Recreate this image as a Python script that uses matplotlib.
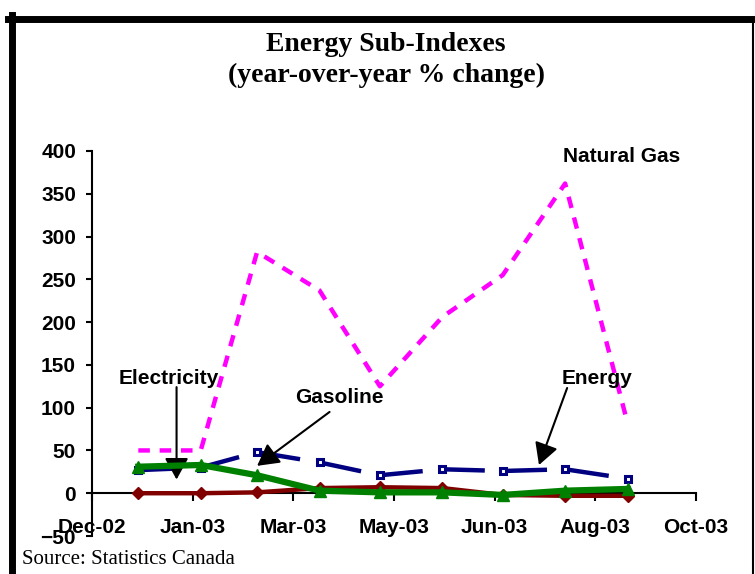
from datetime import date, timedelta

import matplotlib

matplotlib.use("Agg")
import matplotlib.dates as mdates
import matplotlib.pyplot as plt
from matplotlib.lines import Line2D


months = [date(2003, m, 1) for m in range(1, 10)]

natural_gas = [50, 50, 282, 237, 125, 206, 255, 362, 82]
energy = [27, 30, 48, 36, 21, 28, 26, 28, 17]
electricity = [0, 0, 1, 6, 7, 6, -2, -3, -3]
gasoline = [31, 33, 21, 3, 1, 1, -2, 3, 5]

tick_dates = [date(2002, 12, 9) + timedelta(days=50 * k) for k in range(7)]
y_ticks = list(range(-50, 401, 50))

TITLE = "Energy Sub-Indexes\n(year-over-year % change)"
SOURCE = "Source: Statistics Canada"

SANS = ["Liberation Sans", "DejaVu Sans"]
SERIF = ["Liberation Serif", "DejaVu Serif"]


def d(day):
    return mdates.date2num(day)


def main() -> None:
    fig = plt.figure(figsize=(7.55, 5.74), dpi=100)
    ax = fig.add_axes([92 / 755, 38 / 574, 604 / 755, 385 / 574])

    ax.plot(months, natural_gas, color="#ff00ff", lw=3.2, dashes=(2.6, 2.2),
            zorder=2)
    ax.plot(months, energy, color="#000080", lw=3.2, dashes=(9, 5),
            marker="s", ms=5, mfc="white", mec="#000080", mew=2.2, zorder=3)
    ax.plot(months, electricity, color="#800000", lw=3.2,
            marker="D", ms=6, mfc="#800000", mec="#800000", zorder=4)
    ax.plot(months, gasoline, color="#008000", lw=4.5,
            marker="^", ms=9, mfc="#008000", mec="#008000", zorder=5)

    ax.set_xlim(d(tick_dates[0]), d(tick_dates[-1]))
    ax.set_ylim(-50, 400)
    ax.set_xticks([d(t) for t in tick_dates])
    ax.xaxis.set_major_formatter(mdates.DateFormatter("%b-%y"))
    ax.set_yticks(y_ticks)

    for side in ("top", "right"):
        ax.spines[side].set_visible(False)
    ax.spines["bottom"].set_position(("data", 0))
    ax.spines["left"].set_linewidth(1.5)
    ax.spines["bottom"].set_linewidth(1.5)

    ax.tick_params(axis="x", direction="out", length=6, width=1.5, pad=12)
    ax.tick_params(axis="y", direction="out", length=4.5, width=1.5, pad=7)
    for lbl in ax.get_xticklabels() + ax.get_yticklabels():
        lbl.set_fontfamily(SANS)
        lbl.set_fontweight("bold")
        lbl.set_fontsize(15)

    label_kw = dict(fontsize=15, fontweight="bold", family=SANS,
                    ha="center", va="center", zorder=6)
    arrow_kw = dict(arrowstyle="-|>,head_length=0.4,head_width=0.22",
                    color="black", lw=1.5, mutation_scale=33,
                    shrinkA=0, shrinkB=0)

    ax.text(d(date(2003, 1, 16)), 134, "Electricity", **label_kw)
    ax.annotate("", xy=(d(date(2003, 1, 20)), 16),
                xytext=(d(date(2003, 1, 20)), 124), arrowprops=arrow_kw)

    ax.text(d(date(2003, 4, 11)), 112, "Gasoline", **label_kw)
    ax.annotate("", xy=(d(date(2003, 3, 1)), 32),
                xytext=(d(date(2003, 4, 6)), 95), arrowprops=arrow_kw)

    ax.text(d(date(2003, 8, 17)), 134, "Energy", **label_kw)
    ax.annotate("", xy=(d(date(2003, 7, 19)), 33),
                xytext=(d(date(2003, 8, 2)), 123), arrowprops=arrow_kw)

    ax.text(d(date(2003, 8, 29)), 393, "Natural Gas", **label_kw)

    fig.text(386 / 755, 1 - 60 / 574, TITLE, ha="center", va="center",
             fontsize=20, fontweight="bold", family=SERIF, linespacing=1.3)
    fig.text(22 / 755, 1 - 560 / 574, SOURCE, ha="left", va="center",
             fontsize=15, family=SERIF)

    # frame around the chart
    fig.add_artist(Line2D([11.5 / 755, 11.5 / 755], [0, 1 - 15 / 574],
                          transform=fig.transFigure, color="black", lw=5))
    fig.add_artist(Line2D([8 / 755, 1], [1 - 18.5 / 574, 1 - 18.5 / 574],
                          transform=fig.transFigure, color="black", lw=5))
    fig.add_artist(Line2D([753 / 755, 753 / 755], [0, 1 - 18 / 574],
                          transform=fig.transFigure, color="black", lw=1.5))

    fig.savefig("out.png", dpi=100)
    plt.close(fig)


if __name__ == "__main__":
    main()
